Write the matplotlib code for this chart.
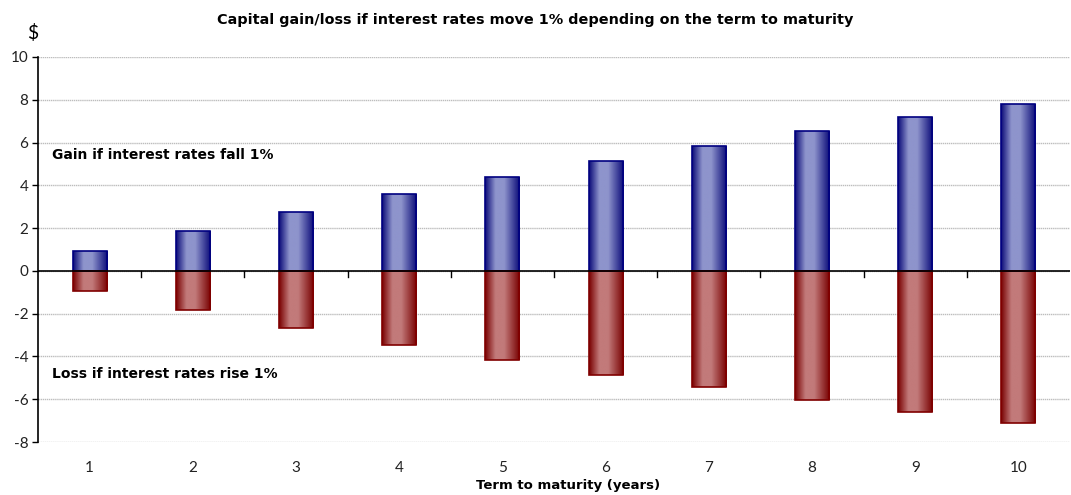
import numpy as np
import matplotlib
matplotlib.use("Agg")
import matplotlib.pyplot as plt
from matplotlib.colors import LinearSegmentedColormap

plt.rcParams['font.family'] = ['Lato', 'DejaVu Sans']
BOLD = ['DejaVu Sans']

terms = [1, 2, 3, 4, 5, 6, 7, 8, 9, 10]
gain_fall = [0.95, 1.88, 2.75, 3.6, 4.4, 5.15, 5.85, 6.55, 7.2, 7.8]
loss_rise = [-0.95, -1.85, -2.68, -3.45, -4.18, -4.85, -5.45, -6.05, -6.62, -7.12]
y_ticks = [-8, -6, -4, -2, 0, 2, 4, 6, 8, 10]

title = "Capital gain/loss if interest rates move 1% depending on the term to maturity"
xlabel = "Term to maturity (years)"
gain_label = "Gain if interest rates fall 1%"
loss_label = "Loss if interest rates rise 1%"

fig = plt.figure(figsize=(10.71, 4.95), dpi=100)
ax = fig.add_axes([38 / 1071, 1 - 442 / 495, 1032 / 1071, (442 - 57) / 495])

x = np.arange(len(terms))
width = 0.33

# cylinder-like horizontal shading across each bar
def shade(dark, light):
    return LinearSegmentedColormap.from_list(
        "s", [(0.0, dark), (0.3, light), (0.55, light), (1.0, dark)])

blue_cmap = shade("#0a0a78", "#8e94cc")
red_cmap = shade("#780000", "#c27a7a")
grad = np.linspace(0, 1, 256).reshape(1, -1)

def shaded_bars(vals, cmap, edge):
    bars = ax.bar(x, vals, width=width, color="none", edgecolor=edge,
                  linewidth=1.2, zorder=3)
    for b in bars:
        x0, y0 = b.get_x(), b.get_y()
        w, h = b.get_width(), b.get_height()
        img = ax.imshow(grad, cmap=cmap, aspect="auto",
                        extent=(x0, x0 + w, min(y0, y0 + h), max(y0, y0 + h)),
                        zorder=2, interpolation="bilinear")
        img.set_clip_path(b)

shaded_bars(gain_fall, blue_cmap, "#000080")
shaded_bars(loss_rise, red_cmap, "#800000")

ax.set_xlim(-0.5, len(terms) - 0.5)
ax.set_ylim(-8, 10)
ax.set_yticks(y_ticks)
ax.set_yticklabels([str(v) for v in y_ticks], fontsize=11, color="#222222")
ax.yaxis.grid(True, color="#bdbdbd", linewidth=1.0, linestyle=(0, (1, 0.5)))
ax.set_axisbelow(True)

ax.set_xticks(x)
ax.set_xticklabels([str(t) for t in terms], fontsize=11, color="#222222")
ax.tick_params(axis="x", length=0, pad=14)
ax.tick_params(axis="y", length=4, width=1, color="black", pad=3)

# boundary ticks on the zero line
ax.axhline(0, color="black", linewidth=1.2, zorder=4)
for bx in np.arange(0.5, len(terms) - 0.5, 1.0):
    ax.plot([bx, bx], [0, -0.3], color="black", linewidth=1, zorder=4)

for s in ["top", "right", "bottom"]:
    ax.spines[s].set_visible(False)
ax.spines["left"].set_color("black")
ax.spines["left"].set_linewidth(1.2)

fig.text(568 / 1071, 1 - 486 / 495, xlabel, ha="center", va="center",
         fontsize=9.5, fontweight="bold", family=BOLD)
fig.text(535 / 1071, 1 - 20 / 495, title, ha="center", va="center",
         fontsize=10.4, fontweight="bold", family=BOLD)
fig.text(33 / 1071, 1 - 33 / 495, "$", ha="center", va="center", fontsize=14)

ax.text(-0.36, 5.4, gain_label, fontsize=10, fontweight="bold", family=BOLD,
        va="center")
ax.text(-0.36, -4.8, loss_label, fontsize=10, fontweight="bold", family=BOLD,
        va="center")

fig.savefig("out.png", dpi=100)
